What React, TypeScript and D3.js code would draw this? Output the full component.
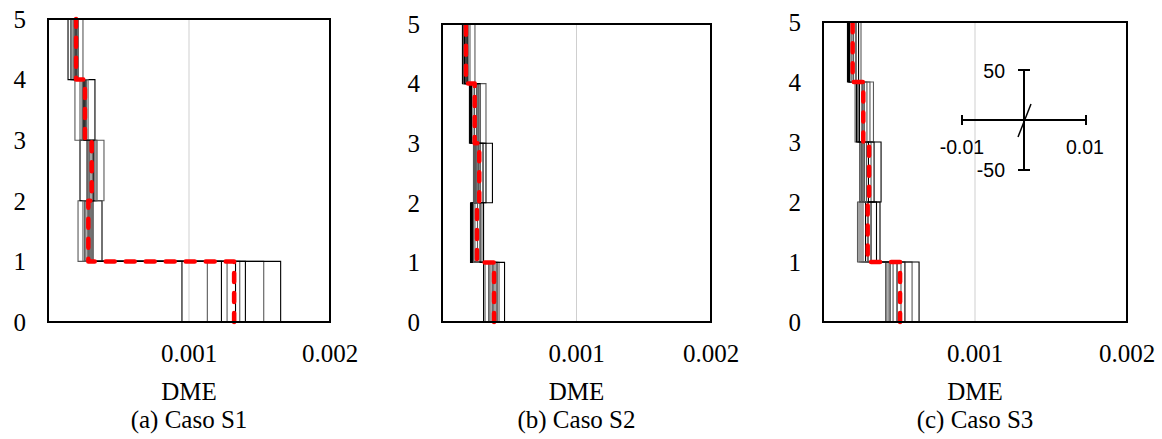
import React, { useRef, useEffect } from 'react';
import * as d3 from 'd3';

// storey levels and tick labels
const levels = [0, 1, 2, 3, 4, 5];
const xTicks = [0.001, 0.002];

// each record: drift per storey (0-1, 1-2, 2-3, 3-4, 4-5)
const recordsS1 = [
  [0.00095, 0.000262, 0.000277, 0.000248, 0.000191],
  [0.00113, 0.000213, 0.000305, 0.000227, 0.000177],
  [0.00123, 0.000291, 0.000227, 0.00027, 0.000213],
  [0.00127, 0.000248, 0.00034, 0.000191, 0.000184],
  [0.00133, 0.000383, 0.000291, 0.000262, 0.000142],
  [0.00136, 0.000277, 0.000397, 0.000241, 0.000206],
  [0.0014, 0.000305, 0.000319, 0.000333, 0.000163],
  [0.00153, 0.000284, 0.000348, 0.000284, 0.000248],
  [0.00165, 0.000319, 0.000326, 0.000255, 0.000199],
];
const meanS1 = [0.00132, 0.000286, 0.00031, 0.000262, 0.000199];

const recordsS2 = [
  [0.000309, 0.000219, 0.00026, 0.000219, 0.000152],
  [0.00032, 0.000245, 0.000234, 0.000257, 0.000171],
  [0.000349, 0.000212, 0.000283, 0.000212, 0.000193],
  [0.000364, 0.000297, 0.000249, 0.000327, 0.00016],
  [0.000379, 0.000227, 0.000375, 0.000204, 0.000178],
  [0.000394, 0.000264, 0.000242, 0.000242, 0.000245],
  [0.000409, 0.000309, 0.000305, 0.000283, 0.000167],
  [0.000424, 0.000234, 0.000271, 0.00023, 0.000208],
  [0.000465, 0.000283, 0.000327, 0.000268, 0.000186],
];
const meanS2 = [0.000387, 0.00026, 0.000277, 0.000243, 0.000178];

const recordsS3 = [
  [0.000414, 0.00028, 0.000263, 0.00027, 0.000168],
  [0.000428, 0.000237, 0.000316, 0.000211, 0.000201],
  [0.000441, 0.000352, 0.000243, 0.00024, 0.000174],
  [0.000461, 0.000227, 0.000286, 0.000309, 0.00025],
  [0.000487, 0.000296, 0.000382, 0.00022, 0.000161],
  [0.000513, 0.00025, 0.000253, 0.000332, 0.000184],
  [0.000539, 0.000375, 0.000299, 0.00023, 0.000234],
  [0.000586, 0.000263, 0.000273, 0.000289, 0.000191],
  [0.000632, 0.000316, 0.000336, 0.000257, 0.000217],
];
const meanS3 = [0.000507, 0.000294, 0.000303, 0.000265, 0.000195];

const panels = [
  { records: recordsS1, mean: meanS1, caption: '(a) Caso S1', left: 48, right: 330, top: 19, bottom: 322, inset: false },
  { records: recordsS2, mean: meanS2, caption: '(b) Caso S2', left: 442, right: 711, top: 24, bottom: 322, inset: false },
  { records: recordsS3, mean: meanS3, caption: '(c) Caso S3', left: 823, right: 1127, top: 22, bottom: 322, inset: true },
];

const serif = '"Liberation Serif", "Times New Roman", serif';
const sans = '"Liberation Sans", Arial, sans-serif';

// turn storey values into a step profile
const toSteps = (vals) => {
  const pts = [];
  vals.forEach((v, i) => {
    pts.push([v, i]);
    pts.push([v, i + 1]);
  });
  return pts;
};

const App = () => {
  const svgRef = useRef();

  useEffect(() => {
    const svg = d3.select(svgRef.current);
    svg.selectAll('*').remove();

    panels.forEach((p) => {
      const w = p.right - p.left;
      const h = p.bottom - p.top;
      const x = d3.scaleLinear().domain([0, 0.002]).range([0, w]);
      const y = d3.scaleLinear().domain([0, 5]).range([h, 0]);
      const g = svg.append('g').attr('transform', `translate(${p.left},${p.top})`);

      // gridline
      g.selectAll('line.grid')
        .data([0.001])
        .enter()
        .append('line')
        .attr('x1', (d) => x(d))
        .attr('x2', (d) => x(d))
        .attr('y1', 0)
        .attr('y2', h)
        .attr('stroke', '#cfcfcf')
        .attr('stroke-width', 1);

      const line = d3
        .line()
        .x((d) => x(d[0]))
        .y((d) => y(d[1]));

      // record profiles
      g.selectAll('path.rec')
        .data(p.records)
        .enter()
        .append('path')
        .attr('d', (d) => line(toSteps(d)))
        .attr('fill', 'none')
        .attr('stroke', (d, i) => (i % 2 ? '#5a5a5a' : '#000'))
        .attr('stroke-width', 1.1);

      // mean profile
      g.append('path')
        .attr('d', line(toSteps(p.mean)))
        .attr('fill', 'none')
        .attr('stroke', '#ff0000')
        .attr('stroke-width', 4.5)
        .attr('stroke-linecap', 'round')
        .attr('stroke-linejoin', 'round')
        .attr('stroke-dasharray', '9,11');

      // frame
      g.append('rect')
        .attr('width', w)
        .attr('height', h)
        .attr('fill', 'none')
        .attr('stroke', '#000')
        .attr('stroke-width', 2);

      // y labels
      g.selectAll('text.y')
        .data(levels)
        .enter()
        .append('text')
        .attr('x', -22)
        .attr('y', (d) => y(d))
        .attr('dy', '0.35em')
        .attr('text-anchor', 'end')
        .attr('font-family', serif)
        .attr('font-size', 25)
        .text((d) => d);

      // x labels
      g.selectAll('text.x')
        .data(xTicks)
        .enter()
        .append('text')
        .attr('x', (d) => x(d))
        .attr('y', h + 31)
        .attr('dy', '0.35em')
        .attr('text-anchor', 'middle')
        .attr('font-family', serif)
        .attr('font-size', 25)
        .text((d) => d);

      g.append('text')
        .attr('x', x(0.001))
        .attr('y', h + 69)
        .attr('dy', '0.35em')
        .attr('text-anchor', 'middle')
        .attr('font-family', serif)
        .attr('font-size', 25)
        .text('DME');

      g.append('text')
        .attr('x', x(0.001))
        .attr('y', h + 97)
        .attr('dy', '0.35em')
        .attr('text-anchor', 'middle')
        .attr('font-family', serif)
        .attr('font-size', 25)
        .text(p.caption);

      if (p.inset) {
        // small axis cross annotation
        const cx = 201;
        const cy = 98;
        const ins = g.append('g').attr('stroke', '#000').attr('stroke-width', 2);
        ins.append('line').attr('x1', cx - 62).attr('x2', cx + 62).attr('y1', cy).attr('y2', cy);
        ins.append('line').attr('x1', cx - 62).attr('x2', cx - 62).attr('y1', cy - 5).attr('y2', cy + 5);
        ins.append('line').attr('x1', cx + 62).attr('x2', cx + 62).attr('y1', cy - 5).attr('y2', cy + 5);
        ins.append('line').attr('x1', cx).attr('x2', cx).attr('y1', cy - 50).attr('y2', cy + 50);
        ins.append('line').attr('x1', cx - 6).attr('x2', cx + 6).attr('y1', cy - 50).attr('y2', cy - 50);
        ins.append('line').attr('x1', cx - 6).attr('x2', cx + 6).attr('y1', cy + 50).attr('y2', cy + 50);
        ins.append('line').attr('x1', cx - 6).attr('x2', cx + 7).attr('y1', cy + 17).attr('y2', cy - 16).attr('stroke-width', 1.5);

        const lab = [
          { t: '50', x: cx - 19, y: cy - 49, a: 'end' },
          { t: '-50', x: cx - 19, y: cy + 50, a: 'end' },
          { t: '-0.01', x: cx - 62, y: cy + 27, a: 'middle' },
          { t: '0.01', x: cx + 61, y: cy + 27, a: 'middle' },
        ];
        g.selectAll('text.ins')
          .data(lab)
          .enter()
          .append('text')
          .attr('x', (d) => d.x)
          .attr('y', (d) => d.y)
          .attr('dy', '0.35em')
          .attr('text-anchor', (d) => d.a)
          .attr('font-family', sans)
          .attr('font-size', 19.5)
          .text((d) => d.t);
      }
    });
  }, []);

  return (
    <svg
      ref={svgRef}
      width={1162}
      height={439}
      style={{ position: 'absolute', left: 0, top: 0, background: '#fff' }}
    ></svg>
  );
};

export default App;
